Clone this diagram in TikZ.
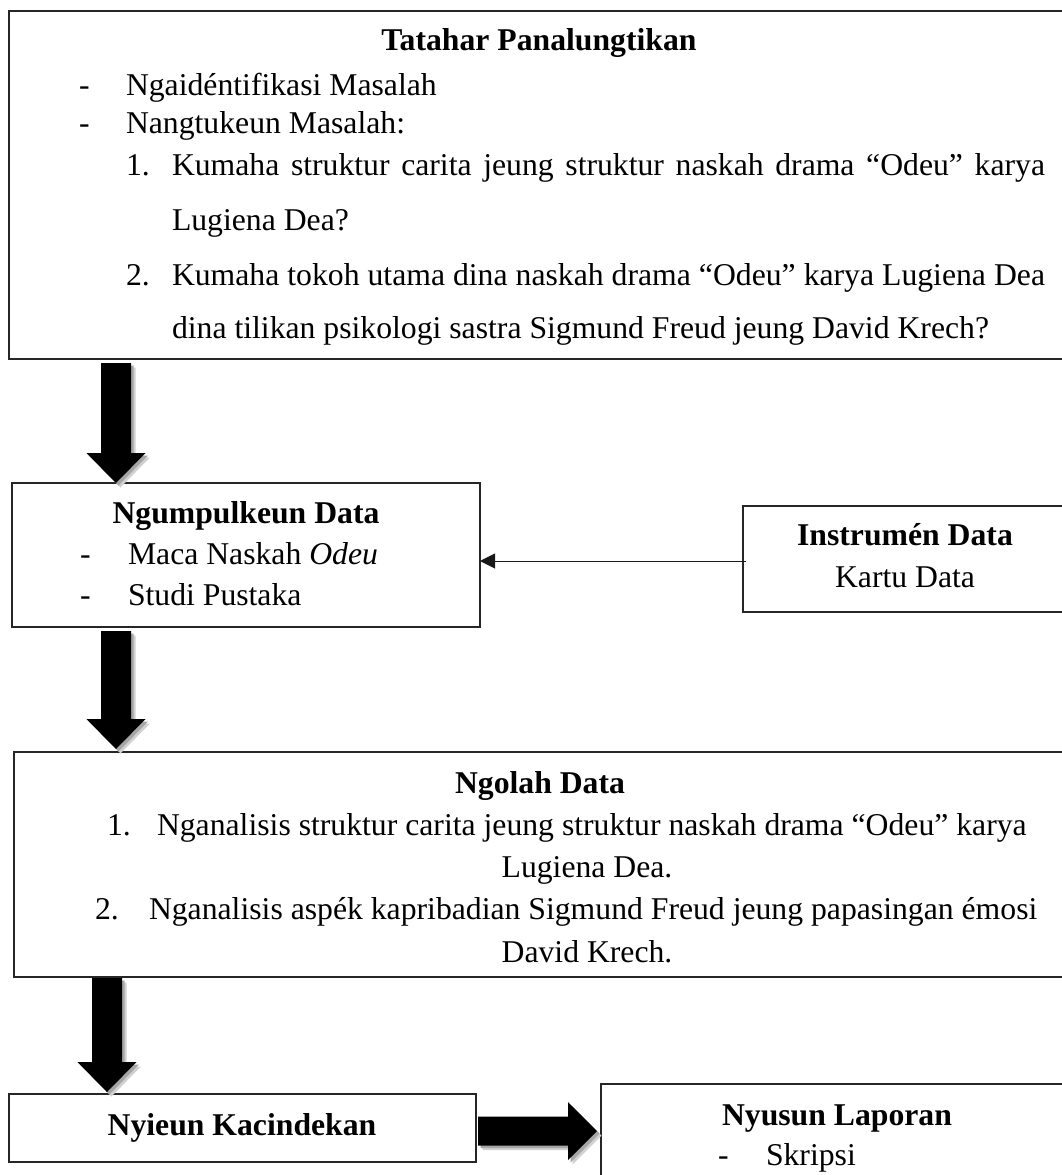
\documentclass[tikz,border=0pt]{standalone}
\usepackage{fontspec}
\setmainfont[Ligatures={TeX,NoCommon}]{Liberation Serif}
\usetikzlibrary{calc,arrows.meta}
\tikzset{
  box/.style={draw=black!85, line width=1.4pt, inner sep=0, outer sep=0, anchor=north west, fill=white},
  txt/.style={inner sep=0, outer sep=0, font=\fontsize{31.7}{41}\selectfont},
  lft/.style={txt, anchor=base west},
  ctr/.style={txt, anchor=base},
  thinarrow/.style={line width=1pt, draw=black!90, -{Triangle[length=15pt,width=15pt]}},
  shadowA/.style={fill=black!18},
  shadowB/.style={fill=black!35},
  solid/.style={fill=black},
}
\newcommand{\downpath}[4]{%
  \fill[#3] let \p1=($(#1)+(#4,#4)$), \p2=($(#2)+(#4,#4)$) in
    (\x1-15pt,\y1) -- (\x1+15pt,\y1) -- (\x1+15pt,\y2+30pt) -- (\x1+29.5pt,\y2+30pt)
    -- (\x1,\y2) -- (\x1-29.5pt,\y2+30pt) -- (\x1-15pt,\y2+30pt) -- cycle;}
\newcommand{\rightpath}[4]{%
  \fill[#3] let \p1=($(#1)+(#4,#4)$), \p2=($(#2)+(#4,#4)$) in
    (\x1,\y1+14.5pt) -- (\x2-29pt,\y1+14.5pt) -- (\x2-29pt,\y1+29pt) -- (\x2,\y1)
    -- (\x2-29pt,\y1-29pt) -- (\x2-29pt,\y1-14.5pt) -- (\x1,\y1-14.5pt) -- cycle;}
\newcommand{\blockdown}[2]{\downpath{#1}{#2}{shadowA}{4.5}\downpath{#1}{#2}{shadowB}{2.5}\downpath{#1}{#2}{solid}{0}}
\newcommand{\blockright}[2]{\rightpath{#1}{#2}{shadowA}{4.5}\rightpath{#1}{#2}{shadowB}{2.5}\rightpath{#1}{#2}{solid}{0}}
\begin{document}
\begin{tikzpicture}[x=1pt,y=-1pt]
\useasboundingbox (0,0) rectangle (1062,1175);
\fill[white] (0,0) rectangle (1062,1175);

% boxes
\node[box, minimum width=1060pt, minimum height=348pt] (top) at (9,11) {};
\node[box, minimum width=468pt, minimum height=144pt] (ngump) at (12,483) {};
\node[box, minimum width=324pt, minimum height=106pt] (instr) at (743,506) {};
\node[box, minimum width=1052pt, minimum height=225pt] (ngolah) at (14,752) {};
\node[box, minimum width=467pt, minimum height=68pt] (nyieun) at (9,1094) {};
\node[box, minimum width=472pt, minimum height=130pt] (nyusun) at (601,1084) {};

% top box text
\node[ctr] (t0) at (539,50) {\bfseries Tatahar Panalungtikan};
\node[lft] (t1d) at (79,95) {-};
\node[lft] (t1) at (126,95) {Ngaidéntifikasi Masalah};
\node[lft] (t2d) at (79,133) {-};
\node[lft] (t2) at (126,133) {Nangtukeun Masalah:};
\node[lft] (t3n) at (126,175) {1.};
\node[lft] (t3) at (172,175) {\makebox[873pt][s]{Kumaha struktur carita jeung struktur naskah drama “Odeu” karya}};
\node[lft] (t4) at (172,230) {Lugiena Dea?};
\node[lft] (t5n) at (126,285) {2.};
\node[lft] (t5) at (172,285) {\makebox[873pt][s]{Kumaha tokoh utama dina naskah drama “Odeu” karya Lugiena Dea}};
\node[lft] (t6) at (172,338) {dina tilikan psikologi sastra Sigmund Freud jeung David Krech?};

% ngumpulkeun
\node[ctr] (g0) at (246,523) {\bfseries Ngumpulkeun Data};
\node[lft] (g1d) at (80,564) {-};
\node[lft] (g1) at (128,564) {Maca Naskah \textit{Odeu}};
\node[lft] (g2d) at (80,605) {-};
\node[lft] (g2) at (128,605) {Studi Pustaka};

% instrumen
\node[ctr] (i0) at (905,545) {\bfseries Instrumén Data};
\node[ctr] (i1) at (905,587) {Kartu Data};

% ngolah
\node[ctr] (o0) at (540,793) {\bfseries Ngolah Data};
\node[lft] (o1n) at (107,835) {1.};
\node[lft] (o1) at (157,835) {Nganalisis struktur carita jeung struktur naskah drama “Odeu” karya};
\node[ctr] (o2) at (587,877) {Lugiena Dea.};
\node[lft] (o3n) at (95,919) {2.};
\node[lft] (o3) at (149,919) {Nganalisis aspék kapribadian Sigmund Freud jeung papasingan émosi};
\node[ctr] (o4) at (587,962) {David Krech.};

% nyieun
\node[ctr] (k0) at (242,1135) {\bfseries Nyieun Kacindekan};

% nyusun
\node[ctr] (n0) at (837,1125) {\bfseries Nyusun Laporan};
\node[lft] (n1d) at (718,1165) {-};
\node[lft] (n1) at (766,1165) {Skripsi};

% connectors
\coordinate (a1s) at ($(top.south west)+(107,4)$);
\coordinate (a1e) at ($(ngump.north west)+(104,0)$);
\blockdown{a1s}{a1e}
\coordinate (a2s) at ($(ngump.south west)+(104,4)$);
\coordinate (a2e) at ($(ngolah.north west)+(102,-3)$);
\blockdown{a2s}{a2e}
\coordinate (a3s) at ($(ngolah.south west)+(93,1)$);
\coordinate (a3e) at ($(nyieun.north west)+(98,-2)$);
\blockdown{a3s}{a3e}
\coordinate (a4s) at ($(nyieun.east)+(2,3)$);
\coordinate (a4e) at ($(nyieun.east -| nyusun.west)+(-4,3)$);
\blockright{a4s}{a4e}

\coordinate (c1) at ($(instr.west)+(3,2)$);
\draw[thinarrow] (c1) -- (ngump.east |- c1);
\end{tikzpicture}
\end{document}
